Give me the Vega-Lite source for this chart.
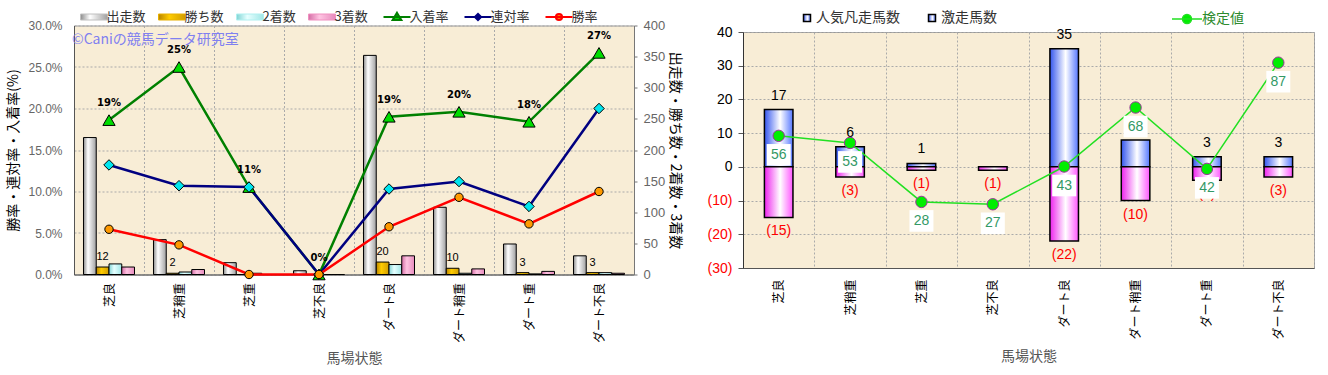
{
  "$schema": "https://vega.github.io/schema/vega-lite/v6.json",
  "background": "white",
  "padding": {"left": 6, "top": 7.5, "right": 0, "bottom": 0},
  "config": {
    "font": "Noto Sans CJK JP",
    "view": {"fill": "#f8edd6", "stroke": "#999999", "strokeWidth": 1}
  },
  "datasets": {
    "left": [
      {"cond": "芝良", "出走数": 220, "勝ち数": 12, "2着数": 17, "3着数": 12, "勝率": 0.0545, "連対率": 0.132, "入着率": 0.186},
      {"cond": "芝稍重", "出走数": 56, "勝ち数": 2, "2着数": 4, "3着数": 8, "勝率": 0.0357, "連対率": 0.107, "入着率": 0.25},
      {"cond": "芝重", "出走数": 19, "勝ち数": 0, "2着数": 2, "3着数": 0, "勝率": 0, "連対率": 0.1053, "入着率": 0.1053},
      {"cond": "芝不良", "出走数": 6, "勝ち数": 0, "2着数": 0, "3着数": 0, "勝率": 0, "連対率": 0, "入着率": 0},
      {"cond": "ダート良", "出走数": 352, "勝ち数": 20, "2着数": 16, "3着数": 30, "勝率": 0.0575, "連対率": 0.103, "入着率": 0.19},
      {"cond": "ダート稍重", "出走数": 108, "勝ち数": 10, "2着数": 2, "3着数": 9, "勝率": 0.093, "連対率": 0.112, "入着率": 0.196},
      {"cond": "ダート重", "出走数": 49, "勝ち数": 3, "2着数": 1, "3着数": 5, "勝率": 0.061, "連対率": 0.082, "入着率": 0.184},
      {"cond": "ダート不良", "出走数": 30, "勝ち数": 3, "2着数": 3, "3着数": 2, "勝率": 0.1, "連対率": 0.2, "入着率": 0.267}
    ],
    "right": [
      {"cond": "芝良", "激走馬数": 17, "人気凡走馬数": -15, "検定値": 56},
      {"cond": "芝稍重", "激走馬数": 6, "人気凡走馬数": -3, "検定値": 53},
      {"cond": "芝重", "激走馬数": 1, "人気凡走馬数": -1, "検定値": 28},
      {"cond": "芝不良", "激走馬数": 0, "人気凡走馬数": -1, "検定値": 27},
      {"cond": "ダート良", "激走馬数": 35, "人気凡走馬数": -22, "検定値": 43},
      {"cond": "ダート稍重", "激走馬数": 8, "人気凡走馬数": -10, "検定値": 68},
      {"cond": "ダート重", "激走馬数": 3, "人気凡走馬数": -4, "検定値": 42},
      {"cond": "ダート不良", "激走馬数": 3, "人気凡走馬数": -3, "検定値": 87}
    ]
  },
  "spacing": 109,
  "bounds": "flush",
  "center": true,
  "resolve": {
    "scale": {"color": "independent", "stroke": "independent", "fill": "independent", "shape": "independent", "size": "independent"},
    "legend": {"color": "independent", "stroke": "independent", "fill": "independent", "shape": "independent", "size": "independent"}
  },
  "hconcat": [
    {
      "width": 560,
      "height": 249,
      "data": {"name": "left"},
      "encoding": {
        "x": {
          "field": "cond", "type": "nominal", "sort": null,
          "scale": {"domain": ["芝良", "芝稍重", "芝重", "芝不良", "ダート良", "ダート稍重", "ダート重", "ダート不良"], "paddingInner": 0, "paddingOuter": 0},
          "axis": {"title": "馬場状態", "labelAngle": -90, "labelFontSize": 12, "labelColor": "#000", "labelPadding": 8, "ticks": false, "tickSize": 0, "tickBand": "extent", "grid": true, "gridDash": [2, 2], "gridColor": "#aaaaaa", "titleFontSize": 14, "titleColor": "#555", "titleFontWeight": "normal", "titlePadding": 9, "domainColor": "#555"}
        }
      },
      "layer": [
        {
          "layer": [
            {
              "mark": {"type": "bar", "stroke": "#000", "strokeWidth": 1,
                "fill": {"gradient": "linear", "x1": 0, "x2": 1, "y1": 0, "y2": 0, "stops": [{"offset": 0, "color": "#8c8c8c"}, {"offset": 0.35, "color": "#ffffff"}, {"offset": 1, "color": "#a0a0a0"}]}},
              "encoding": {
                "xOffset": {"datum": "出走数", "scale": {"domain": ["出走数", "勝ち数", "2着数", "3着数"], "paddingOuter": 0.745, "paddingInner": 0}},
                "y": {"field": "出走数", "type": "quantitative", "scale": {"domain": [0, 400]},
                  "axis": {"orient": "right", "values": [0, 50, 100, 150, 200, 250, 300, 350, 400], "tickCount": 20, "labelOverlap": false, "grid": false, "title": "出走数・勝ち数・2着数・3着数", "labelColor": "#666", "labelFont": "Liberation Sans", "labelFontSize": 13, "labelPadding": 6, "tickSize": 3, "tickColor": "#777", "domainColor": "#777", "titleFontSize": 14, "titleColor": "#000", "titleFontWeight": "normal", "titlePadding": 3}}
              }
            },
            {
              "mark": {"type": "bar", "stroke": "#000", "strokeWidth": 1,
                "fill": {"gradient": "linear", "x1": 0, "x2": 1, "y1": 0, "y2": 0, "stops": [{"offset": 0, "color": "#b88400"}, {"offset": 0.4, "color": "#ffcc00"}, {"offset": 1, "color": "#d09c00"}]}},
              "encoding": {
                "xOffset": {"datum": "勝ち数"},
                "y": {"field": "勝ち数", "type": "quantitative"}
              }
            },
            {
              "mark": {"type": "bar", "stroke": "#000", "strokeWidth": 1,
                "fill": {"gradient": "linear", "x1": 0, "x2": 1, "y1": 0, "y2": 0, "stops": [{"offset": 0, "color": "#7fd4d4"}, {"offset": 0.4, "color": "#e6ffff"}, {"offset": 1, "color": "#9fe6e6"}]}},
              "encoding": {
                "xOffset": {"datum": "2着数"},
                "y": {"field": "2着数", "type": "quantitative"}
              }
            },
            {
              "mark": {"type": "bar", "stroke": "#000", "strokeWidth": 1,
                "fill": {"gradient": "linear", "x1": 0, "x2": 1, "y1": 0, "y2": 0, "stops": [{"offset": 0, "color": "#d46ea6"}, {"offset": 0.4, "color": "#ffc4e2"}, {"offset": 1, "color": "#e68abc"}]}},
              "encoding": {
                "xOffset": {"datum": "3着数"},
                "y": {"field": "3着数", "type": "quantitative"}
              }
            },
            {
              "transform": [{"filter": "datum['勝ち数'] > 0"}],
              "mark": {"type": "text", "fontSize": 11, "dy": -10, "color": "#000", "font": "Liberation Sans"},
              "encoding": {
                "xOffset": {"datum": "勝ち数"},
                "y": {"field": "勝ち数", "type": "quantitative"},
                "text": {"field": "勝ち数", "type": "quantitative", "format": "d"}
              }
            }
          ]
        },
        {
          "layer": [
            {
              "transform": [{"fold": ["入着率", "連対率", "勝率"], "as": ["series", "rate"]}],
              "mark": {"type": "line", "strokeWidth": 2.5},
              "encoding": {
                "y": {"field": "rate", "type": "quantitative", "scale": {"domain": [0, 0.3]},
                  "axis": {"orient": "left", "values": [0, 0.05, 0.1, 0.15, 0.2, 0.25, 0.3], "tickCount": 20, "labelOverlap": false, "format": ".1%", "title": "勝率・連対率・入着率(%)", "grid": true, "gridDash": [2, 2], "gridColor": "#aaaaaa", "ticks": false, "tickSize": 0, "labelPadding": 12, "labelColor": "#666", "labelFont": "Liberation Sans", "labelFontSize": 12, "titleFontSize": 14, "titleColor": "#000", "titleFontWeight": "normal", "titlePadding": 7, "domainColor": "#555"}},
                "color": {"field": "series", "type": "nominal",
                  "scale": {"domain": ["出走数", "勝ち数", "2着数", "3着数", "入着率", "連対率", "勝率"],
                    "range": ["#c0c0c0", "#e8b000", "#b0f0f0", "#f090c0", "#008000", "#000080", "#ff0000"]},
                  "legend": {
                    "orient": "none", "legendX": 13.5, "legendY": -15, "direction": "horizontal", "columns": 7, "gridAlign": "none", "columnPadding": 10,
                    "symbolSize": 400, "labelOffset": 6, "labelFontSize": 13, "labelFont": "Noto Sans CJK JP", "labelColor": "#333", "title": null,
                    "encode": {
                      "symbols": {
                        "update": {
                          "shape": {"signal": "datum.value === '入着率' ? 'M-1.35,0H1.35M0,-0.4L0.42,0.3H-0.42Z' : datum.value === '連対率' ? 'M-1.35,0H1.35M0,-0.3L0.3,0L0,0.3L-0.3,0Z' : datum.value === '勝率' ? 'M-1.35,0H1.35M-0.3,0A0.3,0.3 0 1,0 0.3,0A0.3,0.3 0 1,0 -0.3,0Z' : 'M-1.35,-0.3H1.35V0.3H-1.35Z'"},
                          "fill": [
                            {"test": "datum.value === '出走数'", "value": {"gradient": "linear", "x1": 0, "x2": 1, "y1": 0, "y2": 0, "stops": [{"offset": 0, "color": "#8c8c8c"}, {"offset": 0.35, "color": "#ffffff"}, {"offset": 1, "color": "#a0a0a0"}]}},
                            {"test": "datum.value === '勝ち数'", "value": {"gradient": "linear", "x1": 0, "x2": 1, "y1": 0, "y2": 0, "stops": [{"offset": 0, "color": "#b88400"}, {"offset": 0.4, "color": "#ffcc00"}, {"offset": 1, "color": "#d09c00"}]}},
                            {"test": "datum.value === '2着数'", "value": {"gradient": "linear", "x1": 0, "x2": 1, "y1": 0, "y2": 0, "stops": [{"offset": 0, "color": "#7fd4d4"}, {"offset": 0.4, "color": "#e6ffff"}, {"offset": 1, "color": "#9fe6e6"}]}},
                            {"test": "datum.value === '3着数'", "value": {"gradient": "linear", "x1": 0, "x2": 1, "y1": 0, "y2": 0, "stops": [{"offset": 0, "color": "#d46ea6"}, {"offset": 0.4, "color": "#ffc4e2"}, {"offset": 1, "color": "#e68abc"}]}},
                            {"test": "datum.value === '入着率'", "value": "#00dd00"},
                            {"test": "datum.value === '連対率'", "value": "#00e5ee"},
                            {"value": "#ff9900"}
                          ],
                          "stroke": [
                            {"test": "datum.value === '入着率'", "value": "#008000"},
                            {"test": "datum.value === '連対率'", "value": "#000080"},
                            {"test": "datum.value === '勝率'", "value": "#ff0000"},
                            {"value": "#000000"}
                          ],
                          "strokeWidth": {"signal": "indexof(['入着率','連対率','勝率'], datum.value) >= 0 ? 2.2 : 1"},
                          "opacity": {"value": 1}
                        }
                      }
                    }
                  }
                }
              }
            },
            {
              "transform": [{"fold": ["入着率", "連対率", "勝率"], "as": ["series", "rate"]}],
              "mark": {"type": "point", "filled": true, "stroke": "#000", "strokeWidth": 1, "opacity": 1},
              "encoding": {
                "y": {"field": "rate", "type": "quantitative"},
                "shape": {"field": "series", "type": "nominal", "scale": {"domain": ["入着率", "連対率", "勝率"], "range": ["triangle-up", "diamond", "circle"]}, "legend": null},
                "fill": {"field": "series", "type": "nominal", "scale": {"domain": ["入着率", "連対率", "勝率"], "range": ["#00dd00", "#00e5ee", "#ff9900"]}, "legend": null},
                "size": {"field": "series", "type": "nominal", "scale": {"domain": ["入着率", "連対率", "勝率"], "range": [150, 70, 80]}, "legend": null}
              }
            },
            {
              "mark": {"type": "text", "fontSize": 10, "fontWeight": "bold", "dy": -17, "color": "#000", "font": "DejaVu Sans"},
              "encoding": {
                "y": {"field": "入着率", "type": "quantitative"},
                "text": {"field": "入着率", "type": "quantitative", "format": ".0%"}
              }
            },
            {
              "data": {"values": [{"note": "©Caniの競馬データ研究室"}]},
              "mark": {"type": "text", "align": "left", "baseline": "middle", "fontSize": 14, "color": "#8080f0", "dx": -2},
              "encoding": {
                "x": {"datum": "芝良", "bandPosition": 0},
                "y": {"datum": 0.283},
                "text": {"field": "note"}
              }
            }
          ]
        }
      ],
      "resolve": {"scale": {"y": "independent"}}
    },
    {
      "width": 571,
      "height": 236,
      "data": {"name": "right"},
      "encoding": {
        "x": {
          "field": "cond", "type": "nominal", "sort": null,
          "scale": {"domain": ["芝良", "芝稍重", "芝重", "芝不良", "ダート良", "ダート稍重", "ダート重", "ダート不良"], "paddingInner": 0, "paddingOuter": 0},
          "axis": {"title": "馬場状態", "labelAngle": -90, "labelFontSize": 12, "labelColor": "#000", "labelPadding": 11, "ticks": false, "tickSize": 0, "tickBand": "extent", "grid": true, "gridDash": [2, 2], "gridColor": "#aaaaaa", "titleFontSize": 14, "titleColor": "#555", "titleFontWeight": "normal", "titlePadding": 10, "domainColor": "#555"}
        }
      },
      "layer": [
        {
          "layer": [
            {
              "mark": {"type": "bar", "width": {"band": 0.4}, "strokeWidth": 1.5,
                "fill": {"gradient": "linear", "x1": 0, "x2": 1, "y1": 0, "y2": 0, "stops": [{"offset": 0, "color": "#3355ee"}, {"offset": 0.55, "color": "#ffffff"}, {"offset": 1, "color": "#5577ff"}]}},
              "encoding": {
                "y": {"field": "激走馬数", "type": "quantitative", "scale": {"domain": [-30, 40]},
                  "axis": {"title": null, "values": [-30, -20, -10, 0, 10, 20, 30, 40], "tickCount": 20, "format": "(d", "labelOverlap": false, "labelColor": {"condition": {"test": "datum.value < 0", "value": "#ff0000"}, "value": "#000000"}, "labelFont": "Liberation Sans", "labelFontSize": 14, "labelPadding": 6, "tickSize": 5, "tickColor": "#555", "grid": true, "gridDash": [2, 2], "gridColor": "#aaaaaa", "domainColor": "#333"}},
                "stroke": {"datum": "激走馬数", "type": "nominal",
                  "scale": {"domain": ["人気凡走馬数", "激走馬数"], "range": ["#000000", "#000000"]},
                  "legend": {
                    "orient": "none", "legendX": 57, "legendY": -21, "direction": "horizontal", "columns": 2, "gridAlign": "all", "columnPadding": 25,
                    "symbolType": "square", "symbolSize": 49, "labelOffset": 2, "labelFontSize": 14, "labelColor": "#333", "title": null,
                    "encode": {
                      "symbols": {
                        "update": {
                          "fill": [{"test": "datum.value === '人気凡走馬数'", "value": "#ff44ff"}, {"value": "#5577ff"}],
                          "stroke": {"value": "#000"},
                          "strokeWidth": {"value": 1.5},
                          "opacity": {"value": 1}
                        }
                      }
                    }
                  }
                }
              }
            },
            {
              "mark": {"type": "bar", "width": {"band": 0.4}, "strokeWidth": 1.5,
                "fill": {"gradient": "linear", "x1": 0, "x2": 1, "y1": 0, "y2": 0, "stops": [{"offset": 0, "color": "#ee22ee"}, {"offset": 0.55, "color": "#ffffff"}, {"offset": 1, "color": "#ff55ff"}]}},
              "encoding": {
                "y": {"field": "人気凡走馬数", "type": "quantitative"},
                "stroke": {"datum": "人気凡走馬数", "type": "nominal"}
              }
            },
            {
              "data": {"values": [{"zero": 0}]},
              "mark": {"type": "rule", "stroke": "#ff0000", "strokeWidth": 3},
              "encoding": {"y": {"field": "zero", "type": "quantitative"}}
            },
            {
              "transform": [{"filter": "datum['激走馬数'] > 0"}],
              "mark": {"type": "text", "dy": -14, "fontSize": 14, "color": "#000", "font": "Liberation Sans"},
              "encoding": {
                "y": {"field": "激走馬数", "type": "quantitative"},
                "text": {"field": "激走馬数", "type": "quantitative", "format": "d"}
              }
            },
            {
              "mark": {"type": "text", "dy": 14, "fontSize": 14, "color": "#ff0000", "font": "Liberation Sans"},
              "encoding": {
                "y": {"field": "人気凡走馬数", "type": "quantitative"},
                "text": {"field": "人気凡走馬数", "type": "quantitative", "format": "(d"}
              }
            }
          ]
        },
        {
          "layer": [
            {
              "mark": {"type": "line", "strokeWidth": 1.5},
              "encoding": {
                "y": {"field": "検定値", "type": "quantitative", "scale": {"domain": [0, 100]}, "axis": null},
                "color": {"datum": "検定値", "type": "nominal", "scale": {"domain": ["検定値"], "range": ["#22e022"]},
                  "legend": {
                    "orient": "none", "legendX": 433, "legendY": -24, "symbolSize": 400, "labelOffset": 4, "labelFontSize": 14, "labelColor": "#2e8b2e", "title": null,
                    "encode": {
                      "symbols": {
                        "update": {
                          "shape": {"value": "M-1.5,0H1.5M-0.45,0A0.45,0.45 0 1,0 0.45,0A0.45,0.45 0 1,0 -0.45,0Z"},
                          "fill": {"value": "#00ee00"},
                          "stroke": {"value": "#22d022"},
                          "strokeWidth": {"value": 1.5},
                          "opacity": {"value": 1}
                        }
                      }
                    }
                  }
                }
              }
            },
            {
              "mark": {"type": "point", "filled": true, "fill": "#00ee00", "stroke": "#993399", "strokeWidth": 1, "size": 130, "opacity": 1},
              "encoding": {"y": {"field": "検定値", "type": "quantitative"}}
            },
            {
              "mark": {"type": "point", "filled": true, "shape": "M-1,-0.9H1V0.9H-1Z", "fill": "#ffffff", "strokeWidth": 0, "size": 576, "opacity": 1, "yOffset": 19},
              "encoding": {"y": {"field": "検定値", "type": "quantitative"}}
            },
            {
              "mark": {"type": "text", "dy": 19, "fontSize": 14, "color": "#339966", "font": "Liberation Sans"},
              "encoding": {
                "y": {"field": "検定値", "type": "quantitative"},
                "text": {"field": "検定値", "type": "quantitative", "format": "d"}
              }
            }
          ]
        }
      ],
      "resolve": {"scale": {"y": "independent"}}
    }
  ]
}
